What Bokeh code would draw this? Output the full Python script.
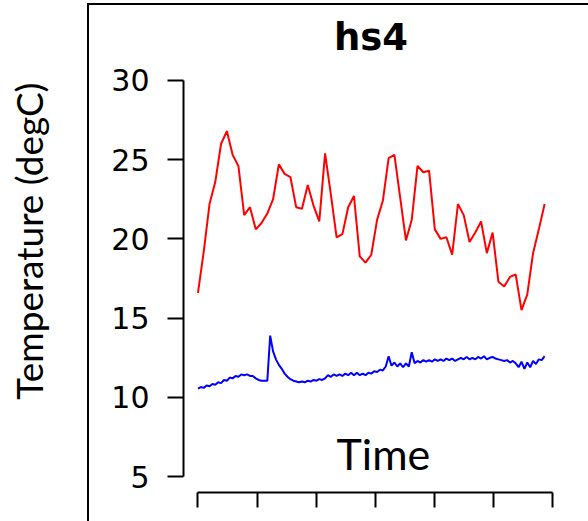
import math
from bokeh.plotting import figure
from bokeh.models import (Range1d, FixedTicker, Label, Title, LinearAxis,
                          InlineStyleSheet)
from bokeh.embed import file_html
from bokeh.resources import INLINE

# ---- chart texts ----
title_text = "hs4"
y_label = "Temperature (degC)"
x_label = "Time"
y_ticks = [5, 10, 15, 20, 25, 30]
x_ticks = [0, 1, 2, 3, 4, 5, 6]

# ---- series (degC), evenly spaced in time ----
time_span = 5.87  # in x-tick units

red_values = [16.6, 19.2, 22.2, 23.6, 26.0, 26.8, 25.3, 24.6, 21.5, 22.0,
              20.6, 21.0, 21.6, 22.5, 24.7, 24.1, 23.9, 22.0, 21.9, 23.4,
              22.1, 21.1, 25.4, 22.8, 20.1, 20.3, 22.0, 22.7, 18.9, 18.5,
              19.0, 21.2, 22.4, 25.1, 25.3, 22.6, 19.9, 21.2, 24.6, 24.2,
              24.3, 20.6, 20.0, 20.1, 19.0, 22.2, 21.5, 19.8, 20.4, 21.1,
              19.1, 20.4, 17.3, 17.0, 17.6, 17.75, 15.5, 16.5, 19.1, 20.6,
              22.2]

blue_values = [10.55, 10.65, 10.6, 10.75, 10.7, 10.85, 10.8, 10.95, 10.9, 11.1,
               11.05, 11.25, 11.2, 11.35, 11.3, 11.45, 11.4, 11.45, 11.35, 11.35,
               11.2, 11.1, 11.05, 11.05, 11.05, 13.9, 12.9, 12.4, 12.05, 11.8,
               11.5, 11.3, 11.15, 11.05, 11.0, 10.95, 11.0, 10.95, 11.05, 11.0,
               11.1, 11.05, 11.15, 11.1, 11.2, 11.4, 11.3, 11.45, 11.35, 11.45,
               11.35, 11.5, 11.4, 11.55, 11.4, 11.55, 11.4, 11.5, 11.4, 11.55,
               11.5, 11.65, 11.6, 11.75, 11.7, 11.95, 12.6, 12.0, 12.2, 11.95,
               12.15, 11.9, 12.15, 11.95, 12.85, 12.15, 12.3, 12.2, 12.35, 12.25,
               12.35, 12.25, 12.4, 12.3, 12.4, 12.3, 12.45, 12.35, 12.45, 12.3,
               12.4, 12.5, 12.4, 12.55, 12.4, 12.5, 12.4, 12.55, 12.45, 12.6,
               12.4, 12.5, 12.55, 12.45, 12.4, 12.35, 12.3, 12.35, 12.2, 12.3,
               12.15, 11.9, 12.25, 11.8, 12.2, 11.9, 12.3, 12.1, 12.4, 12.35,
               12.6]

red_time = [i * time_span / (len(red_values) - 1) for i in range(len(red_values))]
blue_time = [i * time_span / (len(blue_values) - 1) for i in range(len(blue_values))]

p = figure(width=588, height=521,
           x_range=Range1d(-0.245, 6.105), y_range=Range1d(4, 31),
           output_backend="svg", toolbar_location=None,
           min_border_left=183, min_border_right=30,
           min_border_top=64, min_border_bottom=29)
p.outline_line_color = None
p.xgrid.grid_line_color = None
p.ygrid.grid_line_color = None
p.background_fill_color = "white"
p.border_fill_color = "white"

# title
p.title.text = title_text
p.title.align = "center"
p.title.text_font = "DejaVu Sans"
p.title.text_font_style = "bold"
p.title.text_font_size = "37px"
p.title.text_color = "black"
p.title.standoff = 11

# y axis
ya = p.yaxis[0]
ya.ticker = FixedTicker(ticks=y_ticks)
ya.bounds = (y_ticks[0], y_ticks[-1])
ya.major_tick_out = 16
ya.major_tick_in = 0
ya.minor_tick_line_color = None
ya.axis_line_width = 2
ya.major_tick_line_width = 2
ya.axis_line_color = "black"
ya.major_tick_line_color = "black"
ya.major_label_standoff = 18
ya.major_label_text_font = "DejaVu Sans"
ya.major_label_text_font_size = "30px"
ya.major_label_text_color = "black"

# x axis (ticks only, no tick labels)
xa = p.xaxis[0]
xa.ticker = FixedTicker(ticks=x_ticks)
xa.bounds = (x_ticks[0], x_ticks[-1])
xa.major_tick_out = 15
xa.major_tick_in = 0
xa.minor_tick_line_color = None
xa.axis_line_width = 2
xa.major_tick_line_width = 2
xa.axis_line_color = "black"
xa.major_tick_line_color = "black"
xa.major_label_overrides = {t: "" for t in x_ticks}
xa.major_label_text_color = None
xa.major_label_text_font_size = "1px"
xa.major_label_standoff = 0

p.line(red_time, red_values, line_color="#FF0000", line_width=2)
p.line(blue_time, blue_values, line_color="#0000FF", line_width=2)

# invisible spacer axis between the y axis and the y label
spacer = LinearAxis(ticker=FixedTicker(ticks=[y_ticks[0]]), major_tick_out=58,
                    major_tick_in=0, major_tick_line_color="white",
                    minor_tick_line_color=None, axis_line_color=None,
                    major_label_overrides={y_ticks[0]: ""},
                    major_label_text_color=None,
                    major_label_text_font_size="1px",
                    major_label_standoff=0)
p.add_layout(spacer, "left")

# y label as a side title
p.add_layout(Title(text=y_label, align="right", offset=18, standoff=0,
                   vertical_align="bottom",
                   text_font="Lato", text_font_size="37px",
                   text_font_style="normal", text_color="black"), "left")

# "Time" label inside the plot area
p.add_layout(Label(x=3.14, y=6.46, text=x_label, text_font="Lato",
                   text_font_size="43px", text_color="black",
                   text_align="center", text_baseline="alphabetic"))

# outer frame lines (left and top) of the original figure box
p.stylesheets = [InlineStyleSheet(css="""
:host { position: relative; }
:host::after {
  content: "";
  position: absolute;
  left: 87px; top: 3px; right: 0px; bottom: 0px;
  border-left: 2px solid black;
  border-top: 2px solid black;
  pointer-events: none;
  z-index: 10;
}
""")]

open("out.html", "w").write(file_html(p, INLINE))
